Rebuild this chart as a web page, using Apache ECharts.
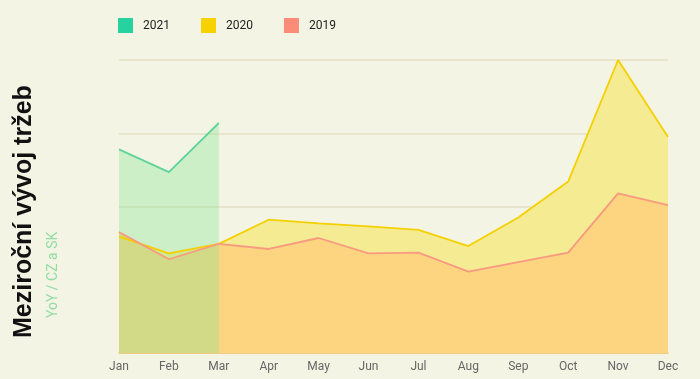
<!DOCTYPE html>
<html><head><meta charset="utf-8">
<script src="https://cdn.jsdelivr.net/npm/echarts@6/dist/echarts.min.js"></script>
<style>html,body{margin:0;padding:0;background:#f4f4e4;}#c{width:700px;height:379px;}</style>
</head><body><div id="c"></div>
<script>
const months = ['Jan','Feb','Mar','Apr','May','Jun','Jul','Aug','Sep','Oct','Nov','Dec'];
const s2021 = [2.78, 2.47, 3.14, '-', '-', '-', '-', '-', '-', '-', '-', '-'];
const s2020 = [1.59, 1.36, 1.49, 1.82, 1.77, 1.73, 1.68, 1.46, 1.85, 2.34, 4.0, 2.95];
const s2019 = [1.65, 1.28, 1.49, 1.42, 1.57, 1.36, 1.37, 1.11, 1.24, 1.37, 2.18, 2.02];
const titleText = 'Meziroční vývoj tržeb';
const subText = 'YoY / CZ a SK';

const chart = echarts.init(document.getElementById('c'), null, {renderer:'canvas'});
chart.setOption({
  backgroundColor: '#f4f4e4',
  animation: false,
  legend: {
    data: ['2021','2020','2019'],
    left: 113, top: 13,
    itemWidth: 15, itemHeight: 15, itemGap: 31,
    icon: 'rect',
    textStyle: {fontFamily: 'Roboto', fontSize: 12, color: '#222', padding: [0,0,0,5]}
  },
  grid: {left: 119, right: 32, top: 60, bottom: 26},
  xAxis: {
    type: 'category', data: months, boundaryGap: false,
    axisLine: {show: true, lineStyle: {color: '#f0c670', width: 1.5}},
    axisTick: {show: false},
    axisLabel: {fontFamily: 'Roboto', fontSize: 12, color: '#666', margin: 8}
  },
  yAxis: {
    type: 'value', min: 0, max: 4, interval: 1,
    axisLabel: {show: false}, axisLine: {show: false}, axisTick: {show: false},
    splitLine: {lineStyle: {color: '#e4e0c6', width: 1.5}}
  },
  graphic: [
    {type: 'text', x: 24, y: 338, rotation: Math.PI/2,
     style: {text: titleText, font: 'bold 25px "Liberation Sans"', fill: '#111', textAlign: 'left', textVerticalAlign: 'middle'}},
    {type: 'text', x: 53, y: 318, rotation: Math.PI/2,
     style: {text: subText, font: '400 14px Roboto', fill: '#92dca4', textAlign: 'left', textVerticalAlign: 'middle'}}
  ],
  series: [
    {name: '2020', type: 'line', data: s2020, showSymbol: false, symbol: 'none',
     itemStyle: {color: '#f7d200'},
     lineStyle: {color: '#f5d000', width: 1.8},
     areaStyle: {color: '#f4eb93', opacity: 1}},
    {name: '2019', type: 'line', data: s2019, showSymbol: false, symbol: 'none',
     itemStyle: {color: '#fb8c78'},
     lineStyle: {color: '#f79a80', width: 1.8},
     areaStyle: {color: '#fdd581', opacity: 1}},
    {name: '2021', type: 'line', data: s2021, showSymbol: false, symbol: 'none',
     itemStyle: {color: '#26d3a0'},
     lineStyle: {color: '#5fd49a', width: 1.8},
     areaStyle: {color: 'rgb(129,229,148)', opacity: 0.34}}
  ]
});
</script></body></html>
